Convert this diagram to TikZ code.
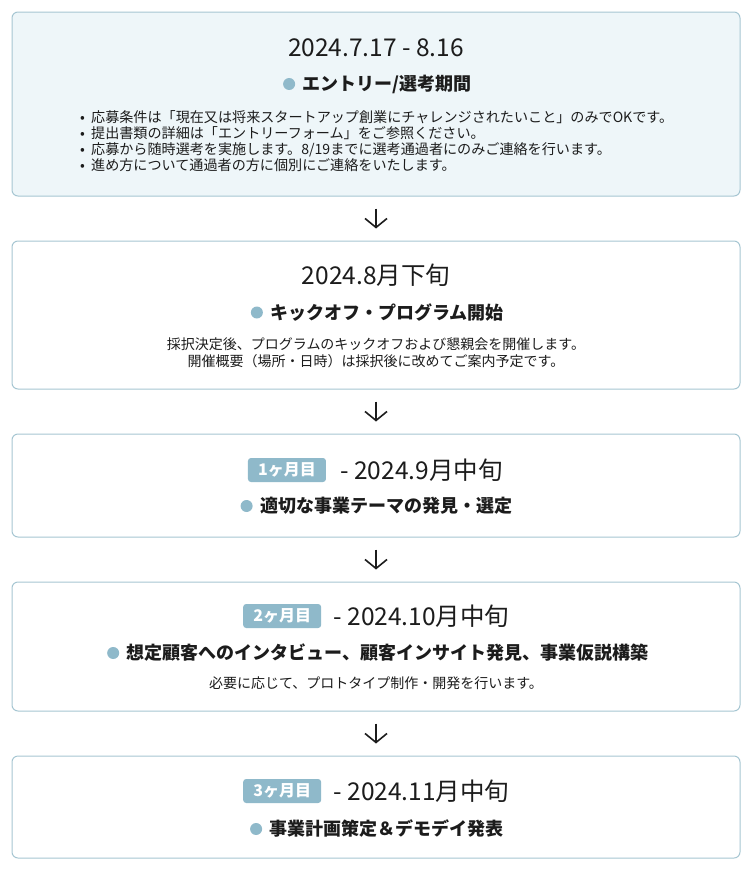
\documentclass[tikz,border=0pt]{standalone}
\usepackage{fontspec}
\setmainfont{Noto Sans CJK JP}
\usetikzlibrary{arrows.meta,positioning}
\definecolor{boxline}{RGB}{166,198,210}
\definecolor{boxfill}{RGB}{238,246,249}
\definecolor{accent}{RGB}{143,185,202}
\definecolor{ink}{RGB}{28,28,28}
\tikzset{
  stage/.style={draw=boxline, line width=1pt, rounded corners=6pt, fill=white,
    minimum width=728pt, inner sep=0pt},
  datetxt/.style={font=\fontsize{24.5}{28}\selectfont, text=ink, inner sep=0pt},
  titletxt/.style={font=\fontsize{18}{21}\selectfont\bfseries, text=ink, inner sep=0pt},
  bodytxt/.style={font=\fontsize{14}{17}\selectfont, text=ink, inner sep=0pt, align=center},
  bullettxt/.style={font=\fontsize{14.1}{16.2}\selectfont, text=ink, inner sep=0pt, align=left},
  dotmark/.style={circle, fill=accent, minimum size=12pt, inner sep=0pt},
  badge/.style={fill=accent, rounded corners=3pt, minimum width=78pt, minimum height=24pt,
    text=white, font=\fontsize{16}{18}\selectfont\bfseries, inner sep=0pt},
  flow/.style={-{Straight Barb[length=9pt,width=22pt,line width=1.6pt]}, line width=1.6pt,
    draw=ink, shorten <=12pt, shorten >=12pt},
}
\newcommand{\bul}{\makebox[11pt][l]{•}}
\begin{document}
\begin{tikzpicture}[x=1pt,y=-1pt]
\useasboundingbox (0,0) rectangle (755,870);
% boxes
\node[stage, fill=boxfill, minimum height=184pt] (s1) at (376,104) {};
\node[stage, minimum height=148pt] (s2) at (376,315) {};
\node[stage, minimum height=103pt] (s3) at (376,485.5) {};
\node[stage, minimum height=129pt] (s4) at (376,646.5) {};
\node[stage, minimum height=102pt] (s5) at (376,807) {};
% arrows
\draw[flow] (s1.south) -- (s2.north);
\draw[flow] (s2.south) -- (s3.north);
\draw[flow] (s3.south) -- (s4.north);
\draw[flow] (s4.south) -- (s5.north);
% box 1
\node[datetxt] (d1) at (376,47.5) {2024.7.17 - 8.16};
\node[titletxt] (t1) at (387,84) {エントリー/選考期間};
\node[dotmark, left=7pt of t1] (p1) {};
\node[bullettxt, anchor=west] (b1) at (80,141) {\bul 応募条件は「現在又は将来スタートアップ創業にチャレンジされたいこと」のみでOKです。\\
\bul 提出書類の詳細は「エントリーフォーム」をご参照ください。\\
\bul 応募から随時選考を実施します。8/19までに選考通過者にのみご連絡を行います。\\
\bul 進め方について通過者の方に個別にご連絡をいたします。};
% box 2
\node[datetxt] (d2) at (376,275) {2024.8月下旬};
\node[titletxt] (t2) at (387,312.5) {キックオフ・プログラム開始};
\node[dotmark, left=7pt of t2] (p2) {};
\node[bodytxt] (x2) at (376,352.5) {採択決定後、プログラムのキックオフおよび懇親会を開催します。\\開催概要（場所・日時）は採択後に改めてご案内予定です。};
% box 3
\node[datetxt] (d3) at (421.5,470) {- 2024.9月中旬};
\node[badge, left=14pt of d3] (g3) {1ヶ月目};
\node[titletxt] (t3) at (386,506) {適切な事業テーマの発見・選定};
\node[dotmark, left=7pt of t3] (p3) {};
% box 4
\node[datetxt] (d4) at (421.5,616) {- 2024.10月中旬};
\node[badge, left=12pt of d4] (g4) {2ヶ月目};
\node[titletxt] (t4) at (387.5,653) {想定顧客へのインタビュー、顧客インサイト発見、事業仮説構築};
\node[dotmark, left=7pt of t4] (p4) {};
\node[bodytxt] (x4) at (376,683) {必要に応じて、プロトタイプ制作・開発を行います。};
% box 5
\node[datetxt] (d5) at (421.5,791) {- 2024.11月中旬};
\node[badge, left=12pt of d5] (g5) {3ヶ月目};
\node[titletxt] (t5) at (386.5,829) {事業計画策定＆デモデイ発表};
\node[dotmark, left=7pt of t5] (p5) {};
\end{tikzpicture}
\end{document}
